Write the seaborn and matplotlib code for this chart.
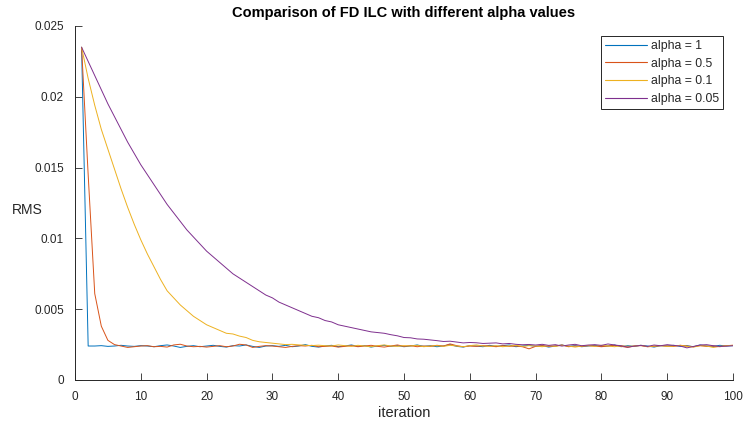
import numpy as np
import pandas as pd
import matplotlib
matplotlib.use("Agg")
import matplotlib.pyplot as plt
import seaborn as sns

# ---------------- data ----------------
iterations = list(range(1, 101))

rms_alpha_1 = [
    0.0235, 0.00240, 0.00240, 0.002425, 0.002375, 0.00240, 0.00245, 0.00240, 0.002375, 0.002425,
    0.00240, 0.00235, 0.002425, 0.002475, 0.00240, 0.00230, 0.002375, 0.002425, 0.00235, 0.00240,
    0.00245, 0.002375, 0.002325, 0.002425, 0.00240, 0.002475, 0.002375, 0.00230, 0.00240, 0.002425,
    0.002375, 0.00245, 0.00235, 0.00240, 0.00250, 0.002375, 0.002325, 0.00240, 0.00245, 0.00235,
    0.00240, 0.002475, 0.002375, 0.002425, 0.002325, 0.00240, 0.00245, 0.002375, 0.002425, 0.00235,
    0.00240, 0.002475, 0.002375, 0.002425, 0.00235, 0.00240, 0.00250, 0.002375, 0.002325, 0.002425,
    0.00240, 0.00235, 0.00245, 0.002375, 0.002425, 0.002475, 0.00235, 0.00240, 0.00245, 0.002375,
    0.002425, 0.002325, 0.00240, 0.002475, 0.002375, 0.002425, 0.00235, 0.00240, 0.00245, 0.002375,
    0.00240, 0.002475, 0.00235, 0.002425, 0.002375, 0.00245, 0.00240, 0.002325, 0.002425, 0.00240,
    0.00245, 0.002375, 0.002425, 0.00235, 0.002475, 0.00240, 0.002375, 0.00245, 0.00240, 0.002425,
]

rms_alpha_05 = [
    0.0235, 0.0145, 0.0061, 0.0038, 0.0028, 0.00250, 0.00240, 0.00230, 0.00235, 0.00240,
    0.002425, 0.00235, 0.002375, 0.002325, 0.002475, 0.002525, 0.00240, 0.00235, 0.002375, 0.002325,
    0.002375, 0.002425, 0.00235, 0.00240, 0.002525, 0.002475, 0.00230, 0.002375, 0.002425, 0.00240,
    0.00235, 0.00230, 0.002375, 0.002425, 0.00240, 0.00245, 0.00235, 0.002375, 0.00240, 0.002325,
    0.002375, 0.002425, 0.00235, 0.00240, 0.00245, 0.002375, 0.002325, 0.00240, 0.002475, 0.002375,
    0.002425, 0.00235, 0.00240, 0.002375, 0.00245, 0.00240, 0.00255, 0.002425, 0.00235, 0.00240,
    0.002375, 0.002425, 0.00240, 0.00235, 0.002425, 0.002375, 0.00240, 0.00235, 0.00220, 0.002375,
    0.002425, 0.002375, 0.00240, 0.002475, 0.00235, 0.00240, 0.002375, 0.002425, 0.00240, 0.00235,
    0.00240, 0.00245, 0.002375, 0.00230, 0.00240, 0.002425, 0.00235, 0.002375, 0.002425, 0.00240,
    0.002375, 0.00245, 0.00240, 0.00235, 0.002425, 0.002375, 0.00240, 0.00235, 0.002425, 0.00245,
]

rms_alpha_01 = [
    0.0235, 0.0213, 0.0194, 0.0177, 0.0163, 0.0149, 0.0135, 0.0122, 0.0110, 0.0099,
    0.0089, 0.0080, 0.0071, 0.0063, 0.0058, 0.0053, 0.0049, 0.0045, 0.0042, 0.0039,
    0.0037, 0.0035, 0.0033, 0.00325, 0.0031, 0.0030, 0.0028, 0.0027, 0.00265, 0.0026,
    0.00255, 0.00250, 0.00252, 0.00248, 0.00245, 0.00243, 0.00246, 0.00242, 0.00240, 0.002475,
    0.002425, 0.002375, 0.00245, 0.00240, 0.00235, 0.002425, 0.002475, 0.00240, 0.002375, 0.002425,
    0.00240, 0.00245, 0.00235, 0.00240, 0.002425, 0.002375, 0.00245, 0.00240, 0.00235, 0.002425,
    0.002475, 0.00240, 0.002375, 0.002425, 0.00235, 0.00240, 0.00245, 0.002375, 0.002425, 0.00240,
    0.00235, 0.002425, 0.002375, 0.00245, 0.00240, 0.002325, 0.00240, 0.002425, 0.002375, 0.00245,
    0.00240, 0.00235, 0.002425, 0.002375, 0.00240, 0.00245, 0.00235, 0.00240, 0.002425, 0.002375,
    0.00240, 0.00245, 0.002375, 0.002325, 0.002425, 0.00240, 0.00230, 0.002375, 0.002425, 0.00245,
]

rms_alpha_005 = [
    0.0235, 0.0225, 0.0215, 0.0205, 0.0195, 0.0186, 0.0177, 0.0168, 0.0160, 0.0152,
    0.0145, 0.0138, 0.0131, 0.0124, 0.0118, 0.0112, 0.0106, 0.0101, 0.0096, 0.0091,
    0.0087, 0.0083, 0.0079, 0.0075, 0.0072, 0.0069, 0.0066, 0.0063, 0.0060, 0.0058,
    0.0055, 0.0053, 0.0051, 0.0049, 0.0047, 0.0045, 0.0044, 0.0042, 0.0041, 0.0039,
    0.0038, 0.0037, 0.0036, 0.0035, 0.0034, 0.00335, 0.0033, 0.0032, 0.00312, 0.0030,
    0.00298, 0.0029, 0.00288, 0.00283, 0.00278, 0.00272, 0.00274, 0.00268, 0.00262, 0.00265,
    0.00263, 0.00258, 0.00260, 0.00262, 0.00255, 0.00258, 0.00252, 0.00249, 0.00251, 0.00247,
    0.00252, 0.002445, 0.002495, 0.002395, 0.00247, 0.00252, 0.00242, 0.00247, 0.002495, 0.002445,
    0.002545, 0.00247, 0.00242, 0.00232, 0.002395, 0.002445, 0.00237, 0.00247, 0.00242, 0.002495,
    0.002445, 0.002395, 0.00227, 0.00237, 0.00247, 0.002495, 0.00242, 0.00237, 0.002395, 0.00242,
]

series_labels = ["alpha = 1", "alpha = 0.5", "alpha = 0.1", "alpha = 0.05"]
series_values = [rms_alpha_1, rms_alpha_05, rms_alpha_01, rms_alpha_005]
series_colors = ["#0072BD", "#D95319", "#EDB120", "#7E2F8E"]

x_ticks = [0, 10, 20, 30, 40, 50, 60, 70, 80, 90, 100]
y_ticks = [0, 0.005, 0.01, 0.015, 0.02, 0.025]
y_tick_labels = ["0", "0.005", "0.01", "0.015", "0.02", "0.025"]

title_text = "Comparison of FD ILC with different alpha values"
x_label = "iteration"
y_label = "RMS"

# ---------------- long-form table ----------------
df = pd.concat(
    [pd.DataFrame({"iteration": iterations, "RMS": vals, "series": lab})
     for lab, vals in zip(series_labels, series_values)],
    ignore_index=True,
)

# ---------------- style ----------------
sns.set_theme(style="ticks")
plt.rcParams["font.family"] = ["Liberation Sans", "DejaVu Sans"]
plt.rcParams["axes.edgecolor"] = "#262626"
plt.rcParams["xtick.color"] = "#262626"
plt.rcParams["ytick.color"] = "#262626"

fig = plt.figure(figsize=(7.46, 4.26), dpi=100)
ax = fig.add_axes([75 / 746, 1 - 380 / 426, (733 - 75) / 746, (380 - 26) / 426])

sns.lineplot(
    data=df, x="iteration", y="RMS", hue="series",
    hue_order=series_labels, palette=dict(zip(series_labels, series_colors)),
    estimator=None, linewidth=0.7, ax=ax,
)

ax.set_xlim(0, 100)
ax.set_ylim(0, 0.025)
ax.set_xticks(x_ticks)
ax.set_xticklabels([str(t) for t in x_ticks])
ax.set_yticks(y_ticks)
ax.set_yticklabels(y_tick_labels)

ax.tick_params(axis="both", direction="in", length=5, width=0.6,
               labelsize=8.5, labelcolor="#262626")
ax.tick_params(axis="x", pad=8)
ax.tick_params(axis="y", pad=8)
for side in ["top", "right"]:
    ax.spines[side].set_visible(False)
for side in ["left", "bottom"]:
    ax.spines[side].set_linewidth(0.7)
    ax.spines[side].set_color("#262626")

ax.set_xlabel(x_label, fontsize=10.5, color="#262626", labelpad=2)
ax.set_ylabel(y_label, fontsize=10, color="#262626", rotation=0,
              ha="center", va="center")
ax.yaxis.set_label_coords((27 - 75) / 658, (380 - 210) / 354)
ax.set_title(title_text, fontsize=10.5, fontweight="bold", color="black", pad=6.5)

handles, labels = ax.get_legend_handles_labels()
leg = ax.legend(
    handles, labels, loc="upper right",
    bbox_to_anchor=((723 - 75) / 658, (380 - 36) / 354),
    borderaxespad=0, frameon=True, fancybox=False, shadow=False,
    framealpha=1, edgecolor="#262626", fontsize=8.8,
    handlelength=3.4, handletextpad=0.3, labelspacing=0.45,
    borderpad=0.35, title=None,
)
leg.get_frame().set_linewidth(0.7)
for line in leg.get_lines():
    line.set_linewidth(0.8)

fig.savefig("out.png", dpi=100)
